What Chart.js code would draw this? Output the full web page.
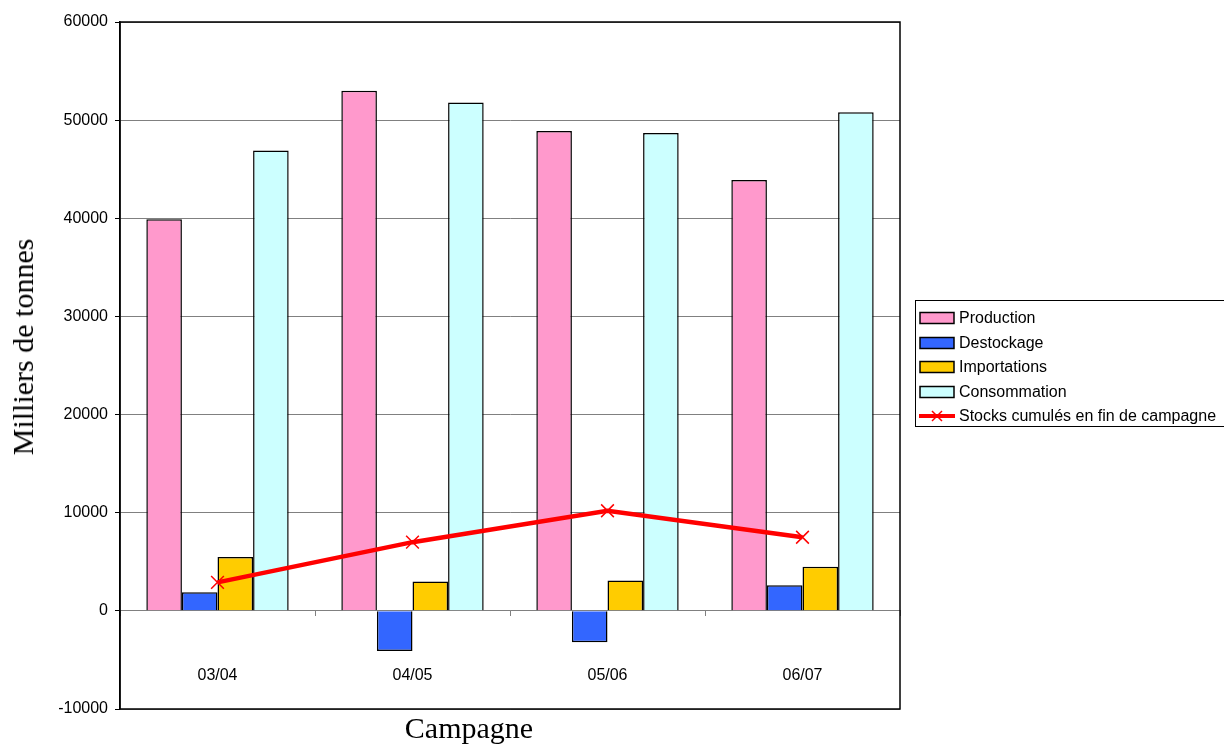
<!DOCTYPE html>
<html>
<head>
<meta charset="utf-8">
<script src="https://cdn.jsdelivr.net/npm/chart.js@4"></script>
<style>
    html, body { margin: 0; padding: 0; background: #fff; overflow: hidden; }
    #wrap { position: relative; width: 1224px; height: 747px; }
    #campagne { position: absolute; left: 0; width: 938px; top: 711px; text-align: center;
        font-family: 'Liberation Serif', serif; font-size: 30px; color: #000; }
    #ytitle { position: absolute; left: 23px; top: 347px; white-space: nowrap;
        transform: translate(-50%, -50%) rotate(-90deg);
        font-family: 'Liberation Serif', serif; font-size: 30px; color: #000; }
    #legend { position: absolute; left: 915px; top: 300px; width: 330px; height: 127px;
        border: 1px solid #000; box-sizing: border-box; padding-top: 5px;
        font-family: 'Liberation Sans', Arial, sans-serif; font-size: 16px; color: #000; }
    .item { height: 24.5px; display: flex; align-items: center; white-space: nowrap; }
    .item svg { margin-left: 3px; margin-right: 4px; }
</style>
</head>
<body>
<div id="wrap">
    <canvas id="chart" width="1224" height="747"></canvas>
    <div id="ytitle">Milliers de tonnes</div>
    <div id="campagne">Campagne</div>
    <div id="legend"></div>
</div>
<script>
var categories = ['03/04', '04/05', '05/06', '06/07'];
var production = [39900, 53000, 48900, 43900];
var destockage = [1900, -4100, -3200, 2600];
var importations = [5500, 3000, 3100, 4500];
var consommation = [46900, 51800, 48700, 50800];
var stocks = [2900, 7000, 10200, 7500];

var fontName = "'Liberation Sans', Arial, sans-serif";

// black frame round the plot area, on top of the bars
var frame = {
    id: 'frame',
    afterDatasetsDraw: function(chart) {
        var a = chart.chartArea, ctx = chart.ctx;
        ctx.save();
        ctx.strokeStyle = '#000';
        ctx.lineWidth = 1.5;
        ctx.strokeRect(a.left, a.top, a.right - a.left, a.bottom - a.top);
        ctx.restore();
    }
};

function barSet(label, data, color) {
    return {
        type: 'bar', label: label, data: data,
        backgroundColor: color, borderColor: '#000', borderWidth: 1.5,
        categoryPercentage: 0.73, barPercentage: 1, order: 2
    };
}

var chart = new Chart(document.getElementById('chart'), {
    data: {
        labels: categories,
        datasets: [
            barSet('Production', production, '#FF99CC'),
            barSet('Destockage', destockage, '#3366FF'),
            barSet('Importations', importations, '#FFCC00'),
            barSet('Consommation', consommation, '#CCFFFF'),
            {
                type: 'line', label: 'Stocks cumulés en fin de campagne', data: stocks,
                borderColor: '#FF0000', borderWidth: 4.5, tension: 0,
                pointStyle: 'crossRot', pointRadius: 9, pointBorderWidth: 1.5,
                pointBorderColor: '#FF0000', pointBackgroundColor: '#FF0000', order: 0
            }
        ]
    },
    options: {
        responsive: false,
        animation: false,
        layout: { padding: { left: 0, top: 22, right: 324, bottom: 38 } },
        plugins: { legend: { display: false }, tooltip: { enabled: false } },
        scales: {
            x: {
                position: { y: 0 },
                offset: true,
                grid: { offset: true, drawOnChartArea: false, color: '#808080', tickLength: 5 },
                border: { color: '#808080', width: 1 },
                ticks: { color: '#000', font: { family: fontName, size: 16 }, padding: 50, maxRotation: 0 }
            },
            y: {
                min: -10000, max: 60000,
                ticks: { stepSize: 10000, color: '#000', font: { family: fontName, size: 16 }, padding: 7,
                    callback: function(v) { return String(v); } },
                grid: { color: '#808080', tickColor: '#000', tickLength: 5 },
                border: { color: '#000', width: 1.5 },
                afterFit: function(scale) { scale.width = 120; }
            }
        }
    },
    plugins: [frame]
});

// legend built from the chart's datasets
var legend = document.getElementById('legend');
chart.data.datasets.forEach(function(ds) {
    var row = document.createElement('div');
    row.className = 'item';
    var svg;
    if (ds.type === 'bar') {
        svg = '<svg width="36" height="14"><rect x="1" y="1.5" width="34" height="11" fill="' +
            ds.backgroundColor + '" stroke="#000" stroke-width="1.5"/></svg>';
    } else {
        svg = '<svg width="36" height="14"><line x1="0" y1="7" x2="36" y2="7" stroke="#FF0000" stroke-width="4"/>' +
            '<line x1="13" y1="2" x2="23" y2="12" stroke="#FF0000" stroke-width="1.5"/>' +
            '<line x1="23" y1="2" x2="13" y2="12" stroke="#FF0000" stroke-width="1.5"/></svg>';
    }
    row.innerHTML = svg + '<span>' + ds.label + '</span>';
    legend.appendChild(row);
});
</script>
</body>
</html>
